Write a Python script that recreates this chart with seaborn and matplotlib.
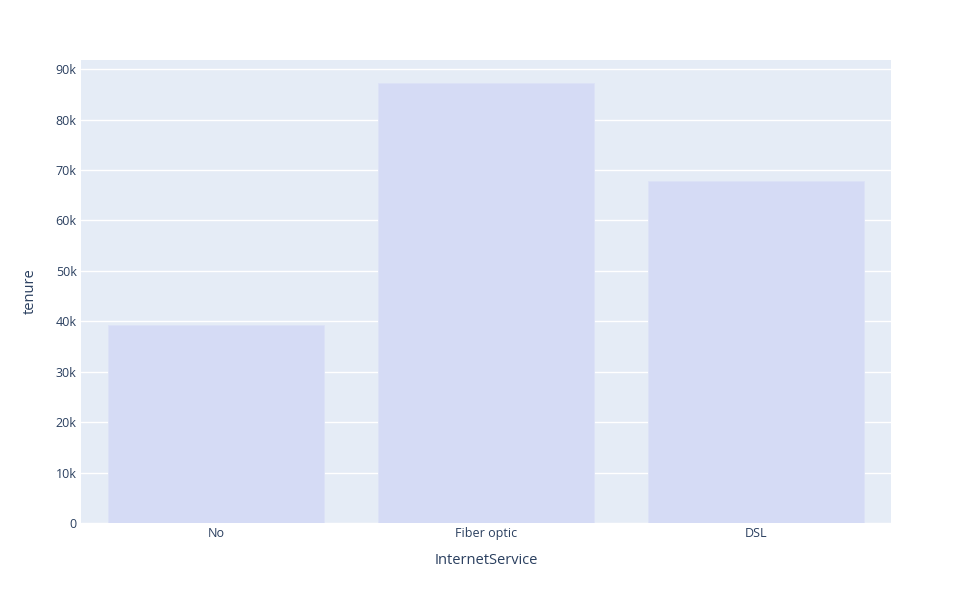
import numpy as np
import pandas as pd
import seaborn as sns
import matplotlib.pyplot as plt
from matplotlib.ticker import FuncFormatter

# summed tenure per internet service type
services = ['No', 'Fiber optic', 'DSL']
tenure_sum = [39300, 87300, 67900]

df = pd.DataFrame({'InternetService': services, 'tenure': tenure_sum})

sns.set_style('white')
plt.rcParams['font.family'] = ['Open Sans', 'DejaVu Sans']

fig = plt.figure(figsize=(9.72, 6.04), dpi=100)
ax = fig.add_axes([81 / 972, 1 - 523 / 604, 810 / 972, 463 / 604])
ax.set_facecolor('#E5ECF6')

sns.barplot(data=df, x='InternetService', y='tenure', color='#d5dbf5',
            width=0.8, saturation=1, ax=ax, zorder=2)
for p in ax.patches:
    p.set_edgecolor('#dde2f7')
    p.set_linewidth(0.6)

ax.set_xlim(-0.5, 2.5)
ax.set_ylim(0, 91800)
ax.set_yticks(np.arange(0, 90001, 10000))
ax.yaxis.set_major_formatter(FuncFormatter(lambda v, _: '0' if v == 0 else f'{int(v / 1000)}k'))
ax.grid(axis='y', color='white', linewidth=1, zorder=0)
ax.set_axisbelow(True)
for s in ax.spines.values():
    s.set_visible(False)

text_color = '#2a3f5f'
ax.tick_params(axis='both', length=0, labelsize=9, colors=text_color)
ax.tick_params(axis='y', pad=3)
ax.tick_params(axis='x', pad=3)
ax.set_xlabel('InternetService', fontsize=10.5, color=text_color, labelpad=9)
ax.set_ylabel('tenure', fontsize=10.5, color=text_color, labelpad=13)

fig.savefig('out.png', dpi=100)
